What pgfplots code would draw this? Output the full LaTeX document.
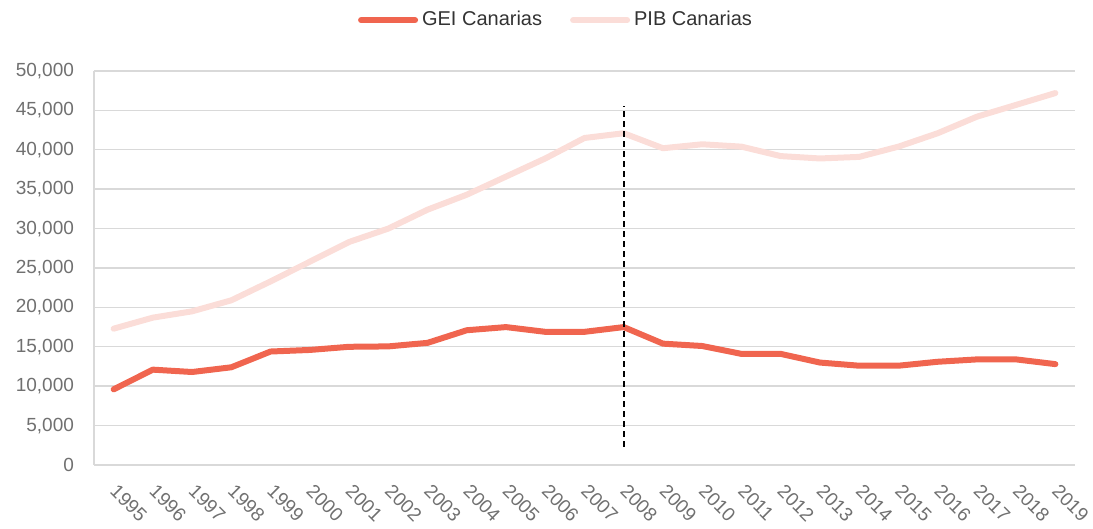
\documentclass[border=0pt]{standalone}
\usepackage{pgfplots}
\pgfplotsset{compat=1.18}
\usepackage{fontspec}
\setmainfont{Liberation Sans}
\definecolor{gei}{HTML}{F0654F}
\definecolor{pib}{HTML}{FBDDD8}
\definecolor{gridc}{HTML}{D9D9D9}
\definecolor{tickc}{HTML}{707070}
\begin{document}
\begin{tikzpicture}
\begin{axis}[
  scale only axis,
  width=490.5pt, height=197pt,
  xmin=-0.5, xmax=24.5,
  ymin=0, ymax=50000,
  xtick={0,...,24},
  xticklabels={1995,1996,1997,1998,1999,2000,2001,2002,2003,2004,2005,2006,2007,2008,2009,2010,2011,2012,2013,2014,2015,2016,2017,2018,2019},
  ytick={0,5000,...,50000},
  scaled y ticks=false,
  /pgf/number format/fixed,
  /pgf/number format/1000 sep={,},
  /pgf/number format/assume math mode=true,
  tick label style={font=\fontsize{9.5}{11}\selectfont, text=tickc},
  xticklabel style={xshift=2.5pt, yshift=-9pt, rotate=-45, anchor=north west, inner sep=0pt},
  yticklabel style={xshift=-6.5pt},
  major tick length=0pt,
  axis x line*=bottom, axis y line*=left,
  axis line style={gridc, line width=0.8pt, -},
  ymajorgrids, major grid style={gridc, line width=0.7pt},
  legend columns=2,
  legend style={draw=none, at={(0.472,1.129)}, anchor=center, font=\fontsize{10}{12}\selectfont, text=black!80,
    /tikz/every even column/.append style={column sep=12pt}},
  legend image code/.code={\draw[#1, line width=3pt] (0pt,0pt) -- (27pt,0pt);},
]
\addplot[gei, line width=3pt, line join=round, line cap=round] coordinates {
(0,9600) (1,12100) (2,11800) (3,12400) (4,14400) (5,14600) (6,15000) (7,15050) (8,15500) (9,17100) (10,17500) (11,16900) (12,16900) (13,17500)
(14,15400) (15,15100) (16,14100) (17,14100) (18,13000) (19,12600) (20,12600) (21,13100) (22,13400) (23,13400) (24,12800)};
\addlegendentry{GEI Canarias}
\addplot[pib, line width=3pt, line join=round, line cap=round] coordinates {
(0,17300) (1,18700) (2,19500) (3,20900) (4,23300) (5,25800) (6,28300) (7,30000) (8,32400) (9,34300) (10,36600) (11,38900) (12,41500) (13,42100)
(14,40200) (15,40700) (16,40400) (17,39200) (18,38900) (19,39100) (20,40400) (21,42100) (22,44200) (23,45700) (24,47200)};
\addlegendentry{PIB Canarias}
\addplot[black, line width=0.8pt, dash pattern=on 3pt off 2pt, forget plot] coordinates {(13,2300) (13,45500)};
\end{axis}
\pgfresetboundingbox
\path (-47pt,-32pt) rectangle (499.5pt,232.5pt);
\end{tikzpicture}
\end{document}
